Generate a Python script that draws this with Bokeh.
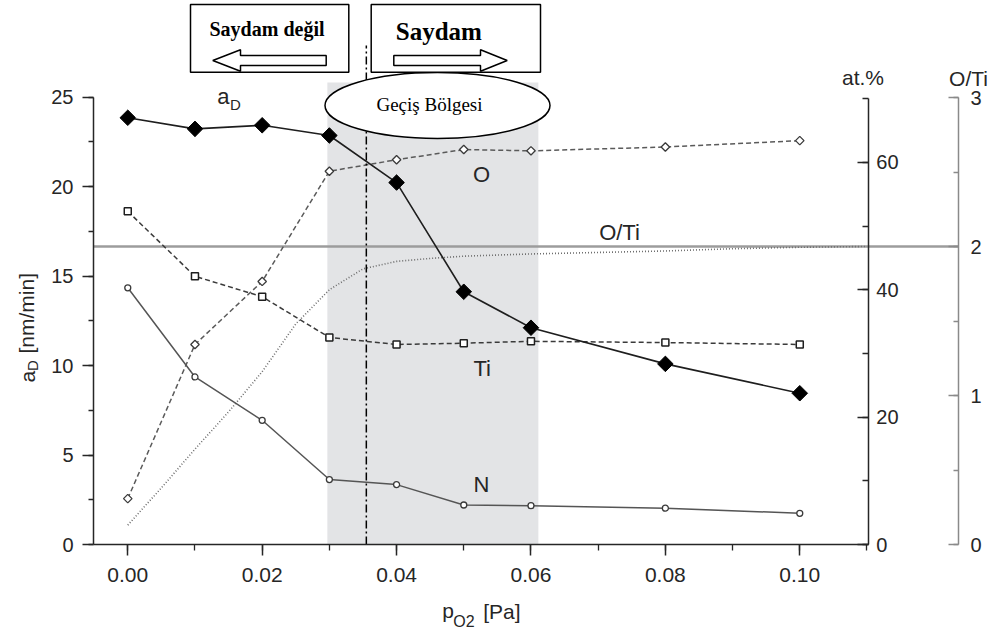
from math import pi

from bokeh.plotting import figure
from bokeh.models import (Range1d, LinearAxis, SingleIntervalTicker, BoxAnnotation,
                          Label, PrintfTickFormatter)
from bokeh.embed import file_html
from bokeh.resources import INLINE

# ---------------------------------------------------------------- data
# oxygen partial pressure of the deposited films [Pa]
p_o2 = [0.00, 0.01, 0.02, 0.03, 0.04, 0.05, 0.06, 0.08, 0.10]
# deposition rate a_D [nm/min]
rate_ad = [23.84, 23.22, 23.42, 22.85, 20.22, 14.12, 12.11, 10.09, 8.45]
# film composition [at.%]
at_o = [7.2, 31.4, 41.3, 58.6, 60.4, 62.0, 61.8, 62.4, 63.4]
at_ti = [52.3, 42.1, 38.9, 32.5, 31.4, 31.6, 31.9, 31.7, 31.4]
at_n = [40.3, 26.3, 19.5, 10.2, 9.4, 6.2, 6.1, 5.7, 4.9]
# O/Ti ratio curve
oti_p = [0.000, 0.005, 0.010, 0.015, 0.020, 0.025, 0.030, 0.035, 0.040,
         0.045, 0.050, 0.060, 0.070, 0.080, 0.090, 0.100, 0.110]
oti_ratio = [0.13, 0.38, 0.64, 0.89, 1.16, 1.48, 1.71, 1.85, 1.90,
             1.92, 1.935, 1.95, 1.96, 1.97, 1.985, 1.995, 2.0]
# stoichiometric TiO2
oti_stoich = 2.0
# transition zone and transparency threshold [Pa]
zone_p = (0.0297, 0.0611)
limit_p = 0.0355

# axis extents
x_ticks_step = 0.02
x_axis_end = 0.1102
ad_max, at_max, oti_max = 25, 70, 3

# ---------------------------------------------------------------- layout
# the plotting frame fills the whole canvas; the axes are pinned inside it
W, H = 1000, 632
AX_L, AX_R, AX_B = 93, 958, 544     # pixel positions of left / O-Ti / bottom axes
X_LEFT = -0.0051                     # pressure at the left axis
PX_X = 6720.0      # pixels per Pa
PX_AD = 17.9       # pixels per nm/min
PX_AT = 6.37       # pixels per at.%
PX_OTI = 149.0     # pixels per O/Ti unit

INK = "#262626"
SANS = "Liberation Sans"
SERIF = "Liberation Serif"


def xd(px):
    return X_LEFT + (px - AX_L) / PX_X


def yd(py):
    return (AX_B - py) / PX_AD


p = figure(width=W, height=H, output_backend="svg", toolbar_location=None,
           x_range=Range1d(xd(0), xd(W)), y_range=Range1d(yd(H), yd(0)),
           min_border=0, min_border_left=0, min_border_right=0,
           min_border_top=0, min_border_bottom=0,
           background_fill_color="white", border_fill_color="white",
           outline_line_color=None)
p.extra_y_ranges = {"at": Range1d((AX_B - H) / PX_AT, AX_B / PX_AT),
                    "oti": Range1d((AX_B - H) / PX_OTI, AX_B / PX_OTI)}
p.xgrid.visible = False
p.ygrid.visible = False


def style_axis(ax, color=INK):
    ax.axis_line_color = color
    ax.axis_line_width = 1.5
    ax.major_tick_line_color = color
    ax.minor_tick_line_color = color
    ax.major_tick_line_width = 1.5
    ax.minor_tick_line_width = 1.3
    ax.major_label_text_font = SANS
    ax.major_label_text_font_size = "20px"
    ax.major_label_text_color = INK
    ax.axis_label = None


# bottom axis
xa = p.xaxis[0]
style_axis(xa)
xa.fixed_location = 0
xa.ticker = SingleIntervalTicker(interval=x_ticks_step, num_minor_ticks=2)
xa.formatter = PrintfTickFormatter(format="%.2f")
xa.bounds = (X_LEFT, x_axis_end)
xa.major_label_text_font_size = "21px"
xa.major_tick_out, xa.major_tick_in = 11, 0
xa.minor_tick_out, xa.minor_tick_in = 6, 0
xa.major_label_standoff = 12

# left axis: deposition rate
ya = p.yaxis[0]
style_axis(ya)
ya.fixed_location = X_LEFT
ya.ticker = SingleIntervalTicker(interval=5, num_minor_ticks=2)
ya.bounds = (0, ad_max)
ya.major_tick_out, ya.major_tick_in = 11, 0
ya.minor_tick_out, ya.minor_tick_in = 5, 0
ya.major_label_standoff = 9

# at.% axis standing at the end of the pressure axis
at_axis = LinearAxis(y_range_name="at", fixed_location=x_axis_end,
                     ticker=SingleIntervalTicker(interval=20, num_minor_ticks=2),
                     bounds=(0, at_max))
style_axis(at_axis)
at_axis.major_tick_in, at_axis.major_tick_out = 11, 0
at_axis.minor_tick_in, at_axis.minor_tick_out = 6, 0
at_axis.major_label_standoff = 8
p.add_layout(at_axis, "right")

# O/Ti axis
oti_axis = LinearAxis(y_range_name="oti", fixed_location=xd(AX_R),
                      ticker=SingleIntervalTicker(interval=1, num_minor_ticks=2),
                      bounds=(0, oti_max))
style_axis(oti_axis, color="#8a8a8a")
oti_axis.major_tick_in, oti_axis.major_tick_out = 10, 0
oti_axis.minor_tick_in, oti_axis.minor_tick_out = 5, 0
oti_axis.major_label_standoff = 12
p.add_layout(oti_axis, "right")

# transition zone shading
p.add_layout(BoxAnnotation(left=zone_p[0], right=zone_p[1], bottom=0, top=yd(82),
                           fill_color="#e3e4e6", fill_alpha=1.0, line_alpha=0,
                           level="underlay"))

# O/Ti = 2 reference line, from the left axis to the O/Ti axis
p.line([X_LEFT, xd(AX_R)], [oti_stoich, oti_stoich], y_range_name="oti",
       line_color="#9c9c9c", line_width=2.4)

# O/Ti curve
p.line(oti_p, oti_ratio, y_range_name="oti", line_color="#6e6e6e",
       line_width=1.6, line_dash="1 2")

# composition series
p.line(p_o2, at_n, y_range_name="at", line_color="#555555", line_width=1.5)
p.line(p_o2, at_ti, y_range_name="at", line_color="#3a3a3a", line_width=1.5,
       line_dash="5 3")
p.line(p_o2, at_o, y_range_name="at", line_color="#5a5a5a", line_width=1.5,
       line_dash="5 3")
p.scatter(p_o2, at_n, y_range_name="at", marker="circle", size=6,
          fill_color="white", line_color="#3a3a3a", line_width=1.3)
p.scatter(p_o2, at_ti, y_range_name="at", marker="square", size=7,
          fill_color="white", line_color="#1e1e1e", line_width=1.5)
p.scatter(p_o2, at_o, y_range_name="at", marker="square", angle=pi / 4, size=6,
          fill_color="white", line_color="#3a3a3a", line_width=1.3)

# deposition rate
p.line(p_o2, rate_ad, line_color="#1e1e1e", line_width=1.6)
p.scatter(p_o2, rate_ad, marker="square", angle=pi / 4, size=11,
          fill_color="black", line_color="black")

# transparency threshold
p.segment(x0=[limit_p], y0=[0], x1=[limit_p], y1=[yd(45)],
          line_color="black", line_width=1.5, line_dash="8 3 2 3")

# "Geçiş Bölgesi" ellipse
p.ellipse(x=[xd(437)], y=[yd(105)], width=[225 / PX_X], height=[66 / PX_AD],
          fill_color="white", line_color="black", line_width=1.5)

# "Saydam değil" / "Saydam" boxes with outlined arrows
p.quad(left=[xd(190), xd(370.7)], right=[xd(348.3), xd(540)],
       top=[yd(4), yd(4)], bottom=[yd(71.7), yd(71.7)],
       fill_color="white", line_color="black", line_width=1.5)
left_arrow = [(212.3, 60), (240, 49.3), (240, 55), (325.7, 55), (325.7, 65),
              (240, 65), (240, 70.7)]
right_arrow = [(393.3, 55), (480, 55), (480, 49.3), (506.7, 60), (480, 70.7),
               (480, 65), (393.3, 65)]
p.patches(xs=[[xd(a) for a, _ in left_arrow], [xd(a) for a, _ in right_arrow]],
          ys=[[yd(b) for _, b in left_arrow], [yd(b) for _, b in right_arrow]],
          fill_color="white", line_color="black", line_width=1.5)


def add_text(txt, px, py, size, font=SANS, align="center", style="normal",
             angle=0.0, color=INK):
    p.add_layout(Label(x=xd(px), y=yd(py), text=txt, text_font=font,
                       text_font_size=f"{size}px", text_align=align,
                       text_baseline="middle", text_font_style=style,
                       angle=angle, text_color=color))


# box / zone captions
add_text("Saydam değil", 266.5, 28.5, 20, font=SERIF, style="bold", color="black")
add_text("Saydam", 438.3, 30.5, 25, font=SERIF, style="bold", color="black")
add_text("Geçiş Bölgesi", 429, 104, 19, font=SERIF, color="black")

# series captions
add_text("a", 216.7, 95.5, 22, align="left")
add_text("D", 229.5, 104, 15, align="left")
add_text("O", 481, 174, 22)
add_text("Ti", 481.7, 368, 22)
add_text("N", 481, 484, 22)
add_text("O/Ti", 619, 232, 22)

# right axis titles
add_text("at.%", 862.5, 77, 21)
add_text("O/Ti", 968, 78, 21)

# left axis title: a_D [nm/min]
add_text("a", 27, 382, 21, align="left", angle=pi / 2)
add_text("D", 32, 370.5, 15, align="left", angle=pi / 2)
add_text("[nm/min]", 26, 353, 21, align="left", angle=pi / 2)

# bottom axis title: p_O2 [Pa]
add_text("p", 441.7, 610, 21, align="left")
add_text("O2", 452.7, 620.5, 16, align="left")
add_text("[Pa]", 482.7, 611, 21, align="left")

open("out.html", "w").write(file_html(p, INLINE))
